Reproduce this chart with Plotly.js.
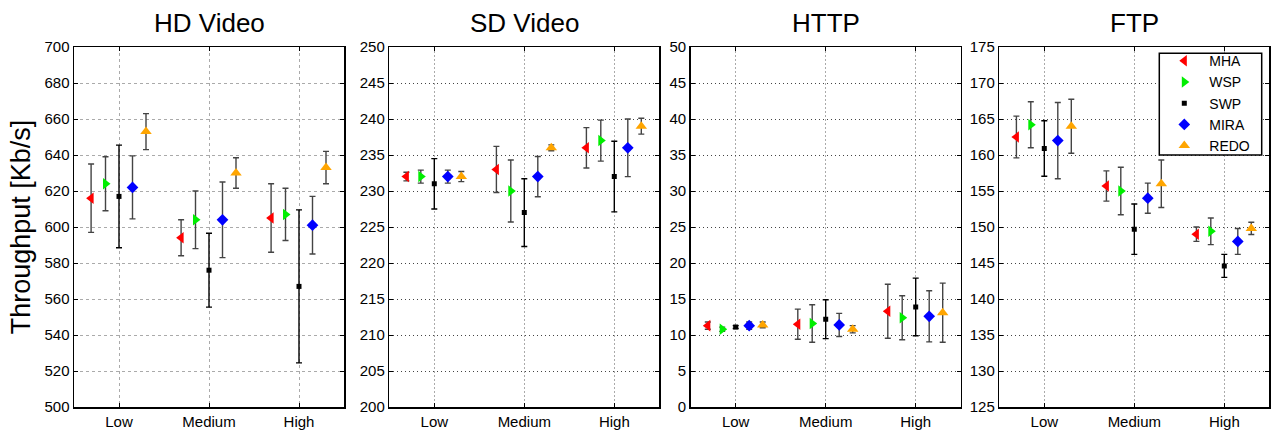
<!DOCTYPE html>
<html>
<head>
<meta charset="utf-8">
<script src="https://cdn.plot.ly/plotly-3.0.1.min.js"></script>
<style>html,body{margin:0;padding:0;background:#fff;}#chart{width:1274px;height:430px;}</style>
</head>
<body>
<div id="chart"></div>
<script>
// ---------- data ----------
const categories = ['Low', 'Medium', 'High'];
const seriesNames = ['MHA', 'WSP', 'SWP', 'MIRA', 'REDO'];
const panelTitles = ['HD Video', 'SD Video', 'HTTP', 'FTP'];

// mean values, one row per series (MHA, WSP, SWP, MIRA, REDO), columns Low/Medium/High
const hdMean = [[616, 594, 605], [624, 604, 607], [617, 576, 567], [622, 604, 601], [653, 630, 633]];
const hdErr  = [[19, 10, 19], [15, 16, 14.5], [28.5, 20.5, 42.5], [17.5, 21, 16], [10, 8.5, 9]];

const sdMean = [[232, 233, 236], [232, 230, 237], [231, 227, 232], [232, 232, 236], [232, 236, 239]];
const sdErr  = [[0.6, 3.2, 2.8], [0.9, 4.3, 2.85], [3.5, 4.7, 4.9], [0.9, 2.8, 4], [0.7, 0.4, 1.1]];

const httpMean = [[11.3, 11.5, 13.3], [10.8, 11.6, 12.4], [11.1, 12.2, 13.9], [11.3, 11.4, 12.6], [11.4, 10.8, 13.1]];
const httpErr  = [[0.5, 2.1, 3.75], [0.3, 2.6, 3.05], [0.2, 2.7, 4], [0.5, 1.6, 3.55], [0.4, 0.5, 4.1]];

const ftpMean = [[162.5, 155.7, 149], [164.2, 155, 149.4], [160.9, 149.7, 144.6], [162, 154, 148], [164, 156, 149.8]];
const ftpErr  = [[2.9, 2.1, 1], [3.2, 3.3, 1.85], [3.85, 3.5, 1.6], [5.3, 2.1, 1.8], [3.75, 3.3, 0.85]];

const yRanges = [[500, 700], [200, 250], [0, 50], [125, 175]];
const yDtick = [20, 5, 5, 5];

// ---------- styling ----------
const seriesOffset = [-0.31, -0.15, 0, 0.15, 0.3];
const seriesSymbol = ['triangle-left', 'triangle-right', 'square', 'diamond', 'triangle-up'];
const seriesColor = ['#ff0000', '#00ee00', '#000000', '#0000ff', '#ffa500'];
const seriesSize = [10, 10, 5, 9, 10];
const errColor = ['#444', '#444', '#000', '#444', '#444'];

const panels = [[hdMean, hdErr], [sdMean, sdErr], [httpMean, httpErr], [ftpMean, ftpErr]];
const W = 1274, H = 430;
const leftPx = [74, 389.3, 690.7, 999.3];
const plotW = 270;
const topPx = 47, botPx = 407;
const FONT = 'Liberation Sans, Arial, Helvetica, sans-serif';

const traces = [];
panels.forEach((p, pi) => {
  const [means, errs] = p;
  const sfx = pi === 0 ? '' : String(pi + 1);
  seriesNames.forEach((name, si) => {
    traces.push({
      type: 'scatter', mode: 'markers', name: name,
      x: categories.map((c, ci) => ci + 1 + seriesOffset[si]),
      y: means[si],
      error_y: {type: 'data', array: errs[si], visible: true, color: errColor[si], thickness: 1.4, width: 3},
      marker: {symbol: seriesSymbol[si], color: seriesColor[si], size: seriesSize[si], line: {width: 0}},
      xaxis: 'x' + sfx, yaxis: 'y' + sfx,
      showlegend: pi === 3,
      hoverinfo: 'x+y'
    });
  });
});

// legend frame (px)
const legBox = {x0: 1159.3, x1: 1261.7, y0: 53.3, y1: 155};

const layout = {
  width: W, height: H,
  margin: {l: 0, r: 0, t: 0, b: 0},
  paper_bgcolor: '#fff', plot_bgcolor: '#fff',
  font: {family: FONT, size: 15, color: '#000'},
  showlegend: true,
  legend: {
    x: legBox.x0 / W, y: (H - 45.2) / H, xanchor: 'left', yanchor: 'top',
    bgcolor: 'rgba(0,0,0,0)', borderwidth: 0,
    font: {family: FONT, size: 14, color: '#000'},
    itemwidth: 40,
    tracegroupgap: 0
  },
  annotations: [],
  shapes: [{
    type: 'rect', xref: 'paper', yref: 'paper', layer: 'above',
    x0: legBox.x0 / W, x1: legBox.x1 / W, y0: (H - legBox.y1) / H, y1: (H - legBox.y0) / H,
    fillcolor: '#fff', line: {color: '#000', width: 1.5}
  }]
};

panels.forEach((p, pi) => {
  const sfx = pi === 0 ? '' : String(pi + 1);
  const x0 = leftPx[pi] / W, x1 = (leftPx[pi] + plotW) / W;
  const hd = pi === 0;
  layout['xaxis' + sfx] = {
    domain: [x0, x1], anchor: 'y' + sfx,
    range: [0.5, 3.5], tickvals: [1, 2, 3], ticktext: categories,
    showline: true, linecolor: '#000', linewidth: 1.5, mirror: 'ticks',
    ticks: 'inside', ticklen: 4, tickcolor: '#000',
    showgrid: true, gridcolor: '#aaa', gridwidth: 1, griddash: hd ? '3px,3px' : '2px,2px',
    zeroline: false, fixedrange: true,
    tickfont: {family: FONT, size: 15, color: '#000'}
  };
  layout['yaxis' + sfx] = {
    domain: [(H - botPx) / H, (H - topPx) / H], anchor: 'x' + sfx,
    range: yRanges[pi], dtick: yDtick[pi], tick0: 0,
    showline: true, linecolor: '#000', linewidth: 1.5, mirror: 'ticks',
    ticks: 'inside', ticklen: 4, tickcolor: '#000',
    showgrid: true, gridcolor: hd ? '#aaa' : '#444', gridwidth: 1, griddash: hd ? '3px,3px' : '1px,3px',
    zeroline: false, fixedrange: true,
    tickfont: {family: FONT, size: 15, color: '#000'}
  };
  layout.annotations.push({
    text: panelTitles[pi], xref: 'paper', yref: 'paper',
    x: (leftPx[pi] + plotW / 2) / W, y: (H - 23) / H,
    xanchor: 'center', yanchor: 'middle', showarrow: false,
    font: {family: FONT, size: 26, color: '#000'}
  });
});

layout.yaxis.title = {text: 'Throughput [Kb/s]', font: {family: FONT, size: 27, color: '#000'}, standoff: 6};

Plotly.newPlot('chart', traces, layout, {displayModeBar: false, staticPlot: true});
</script>
</body>
</html>
